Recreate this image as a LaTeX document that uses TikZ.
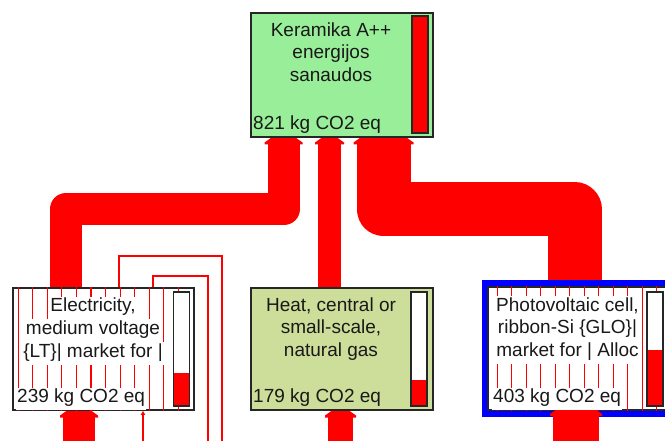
\documentclass[tikz,border=0pt]{standalone}
\usepackage{fontspec}
\setmainfont{Liberation Sans}
\usetikzlibrary{arrows.meta}

\definecolor{keramikagreen}{RGB}{153,238,153}
\definecolor{heatgreen}{RGB}{204,222,153}
\definecolor{flowred}{RGB}{255,0,0}
\definecolor{pvblue}{RGB}{0,0,255}

% arrow head on a flow: x centre, shaft width, top y
\newcommand{\flowhead}[3]{%
  \fill[flowred] (#1-#2/2-3,#3+7) -- (#1-#2/2-3,#3+5) -- (#1-#2/2+4,#3) -- (#1+#2/2-4,#3) -- (#1+#2/2+3,#3+5) -- (#1+#2/2+3,#3+7) -- cycle;}

\tikzset{
  procbox/.style={rectangle, draw=black!85, line width=1.5, inner sep=0},
  bar/.style={rectangle, draw=black!85, line width=1.5, fill=white, minimum width=16, minimum height=114, inner sep=0},
  barfill/.style={path picture={\fill[flowred] (path picture bounding box.south west) rectangle ([yshift=#1]path picture bounding box.south east);}},
  txt/.style={inner sep=0, font=\fontsize{19}{22.5}\selectfont, text=black!90},
  masked/.style={txt, fill=white, inner xsep=1, text height=15, text depth=7.5},
  pipe/.style={draw=flowred, line join=round},
  thinflow/.style={draw=flowred, line width=1.2},
  hatch/.style={draw=flowred, line width=1.1}
}

\begin{document}
\begin{tikzpicture}[x=1pt, y=-1pt]
\useasboundingbox (0,0) rectangle (665,441);

% Flows between boxes
\coordinate (bendL) at (65.5,209.5);
\coordinate (bendR) at (575,209.5);
\node[procbox, minimum width=182, minimum height=124] (keramika) at (342,75) {};
\node[procbox, minimum width=181, minimum height=122] (elec) at (103.5,349) {};
\node[procbox, minimum width=182, minimum height=122] (heat) at (342,349) {};
\node[rectangle, draw=pvblue, line width=6, minimum width=188, minimum height=131, inner sep=0] (pvframe) at (579,348.5) {};
\node[procbox, fill=white, minimum width=179, minimum height=123] (pv) at (577.5,348.5) {};

\draw[pipe, line width=32] ([xshift=-58.5,yshift=-5]keramika.south) |- (bendL) -- (bendL |- elec.north);
\draw[pipe, line width=23] ([xshift=-12.5,yshift=-5]keramika.south) -- ([xshift=-12.5]heat.north);
\draw[pipe, line width=54] ([xshift=41.5,yshift=-5]keramika.south) |- (bendR) -- (bendR |- pvframe.north);
\flowhead{283.5}{32}{137.5}
\flowhead{329.5}{23}{137.5}
\flowhead{383.5}{54}{137.5}

% Thin loops on the electricity box
\coordinate (loopA) at (222,445);
\coordinate (loopB) at (208,445);
\coordinate (loopC) at (143,445);
\draw[thinflow] ([xshift=15.5]elec.north) |- (222,256) -- (loopA);
\draw[thinflow] ([xshift=49.5]elec.north) |- (208,276) -- (loopB);

% Flows coming in from below
\coordinate (elecsrc) at (79,450);
\coordinate (heatsrc) at (340.5,450);
\coordinate (pvsrc) at (576,450);
\draw[pipe, line width=32] (elecsrc) -- ([yshift=-5]elecsrc |- elec.south);
\draw[pipe, line width=25] (heatsrc) -- ([yshift=-5]heatsrc |- heat.south);
\draw[pipe, line width=46] (pvsrc) -- ([yshift=-5]pvsrc |- pv.south);
\flowhead{79}{32}{410.5}
\flowhead{340.5}{25}{410.5}
\flowhead{576}{46}{409}

% Keramika A++
\node[procbox, fill=keramikagreen, minimum width=182, minimum height=124] at (keramika) {};
\node[txt, anchor=base] at (331,36.5) {Keramika A++};
\node[txt, anchor=base] at (331,59) {energijos};
\node[txt, anchor=base] at (331,81.5) {sanaudos};
\node[txt, anchor=base west] at (253,129.5) {821 kg CO2 eq};
\node[bar, fill=flowred, minimum height=117] (keramikabar) at (420,74.5) {};

% Electricity
\node[procbox, fill=white, minimum width=181, minimum height=122] at (elec) {};
\foreach \k in {0,...,11}
  \draw[hatch] ([xshift={6+14.55*\k}]elec.north west) -- ([xshift={6+14.55*\k}]elec.south west);
\node[masked, anchor=base] at (93,312) {Electricity,};
\node[masked, anchor=base] at (93,334.5) {medium voltage};
\node[masked, anchor=base] at (93,357) {\{LT\}| market for |};
\node[masked, anchor=base west] at (16,402.5) {239 kg CO2 eq};
\node[bar, barfill=33] (elecbar) at (181.5,349) {};
\draw[thinflow, -{Latex[length=4,width=5]}] (loopC) -- ([xshift=39.5]elec.south);

% Heat
\node[procbox, fill=heatgreen, minimum width=182, minimum height=122] at (heat) {};
\node[txt, anchor=base] at (331,311.5) {Heat, central or};
\node[txt, anchor=base] at (331,334) {small-scale,};
\node[txt, anchor=base] at (331,356.5) {natural gas};
\node[txt, anchor=base west] at (253,402.5) {179 kg CO2 eq};
\node[bar, barfill=26] (heatbar) at (419,349) {};

% Photovoltaic cell
\foreach \k in {0,...,11}
  \draw[hatch] ([xshift={10+14.5*\k}]pv.north west) -- ([xshift={10+14.5*\k}]pv.south west);
\node[masked, anchor=base] at (567.5,311.5) {Photovoltaic cell,};
\node[masked, anchor=base] at (567.5,334) {ribbon-Si \{GLO\}|};
\node[masked, anchor=base] at (567.5,356.5) {market for | Alloc};
\node[masked, anchor=base west] at (492,402.5) {403 kg CO2 eq};
\node[bar, barfill=56] (pvbar) at (655,349) {};

\end{tikzpicture}
\end{document}
